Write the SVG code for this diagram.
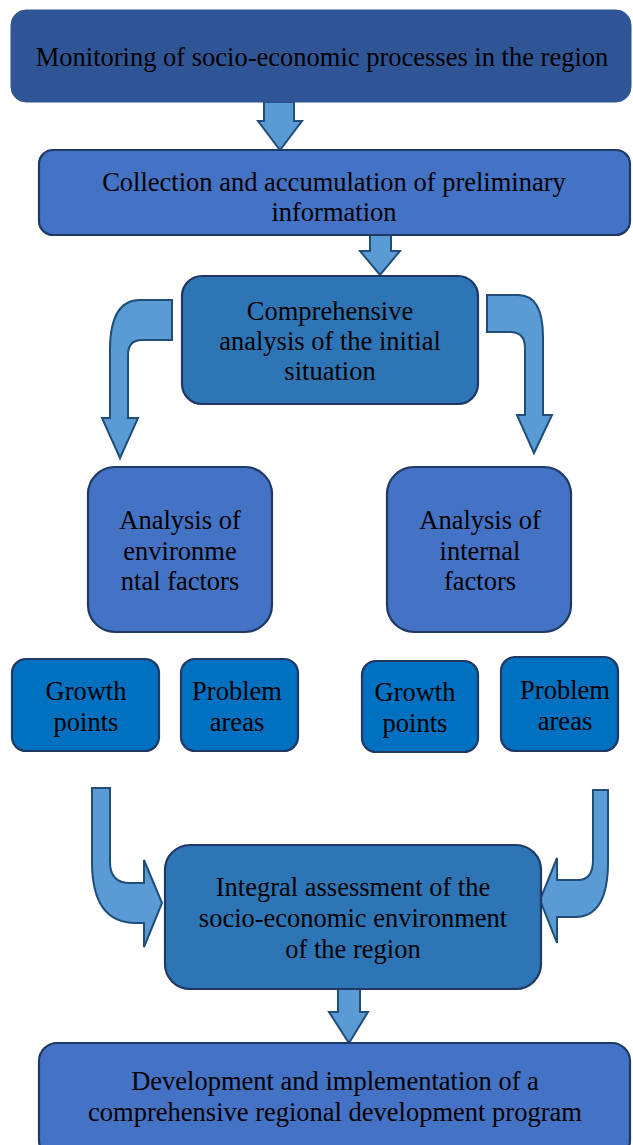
<svg xmlns="http://www.w3.org/2000/svg" width="633" height="1145" viewBox="0 0 633 1145">
<style>
.t{font-family:"Liberation Serif","Times New Roman",serif;font-size:26.5px;fill:#000;text-anchor:middle}
.b{stroke:#1F3864;stroke-width:2.2}
.a{fill:#5B9BD5;stroke:#1F4E79;stroke-width:2;stroke-linejoin:miter}
</style>
<rect width="633" height="1145" fill="#fff"/>
<g id="connectors">
<path class="a" d="M264,102 L294,102 L294,121 L302,121 L280,150 L258,121 L264,121 Z"/>
<path class="a" d="M370,235 L391,235 L391,251 L400,251 L380,275 L360,251 L370,251 Z"/>
<path class="a" d="M172,300 L140,300 Q110,300 110,350 L110,418 L102,418 L120,458 L138,418 L128,418 L128,355 Q128,340 142,340 L172,340 Z"/>
<path class="a" d="M487,295 L518,295 Q543,295 543,337 L543,415 L552,415 L534,453 L517,415 L525,415 L525,348 Q525,332 510,332 L487,332 Z"/>
<path class="a" d="M92,788 L110,788 L110,862 Q110,883 130,883 L144,883 L144,860 L162,903 L144,947 L144,923 L136,923 Q92,923 92,862 Z"/>
<path class="a" d="M593,790 L608,790 L608,862 Q608,917 575,917 L557,917 L557,943 L540,900 L557,858 L557,880 L578,880 Q593,880 593,860 Z"/>
<path class="a" d="M338,989 L360,989 L360,1012 L368,1012 L349,1043 L329,1012 L338,1012 Z"/>
</g>
<g id="n1">
<rect x="11" y="10" width="620" height="92" rx="15" fill="#2F5597" stroke="#2F5597" stroke-width="1"/>
<text class="t" x="322" y="66">Monitoring of socio-economic processes in the region</text>
</g>
<g id="n2">
<rect class="b" x="39" y="150" width="591" height="85" rx="14" fill="#4472C4"/>
<text class="t" x="334" y="191">Collection and accumulation of preliminary</text>
<text class="t" x="334" y="221">information</text>
</g>
<g id="n3">
<rect class="b" x="182" y="276" width="296" height="128" rx="20" fill="#2E75B6"/>
<text class="t" x="330" y="320">Comprehensive</text>
<text class="t" x="330" y="350">analysis of the initial</text>
<text class="t" x="330" y="380">situation</text>
</g>
<g id="n4">
<rect class="b" x="88" y="467" width="184" height="165" rx="27" fill="#4472C4"/>
<text class="t" x="180" y="529">Analysis of</text>
<text class="t" x="180" y="560">environme</text>
<text class="t" x="180" y="590">ntal factors</text>
</g>
<g id="n5">
<rect class="b" x="387" y="467" width="184" height="165" rx="27" fill="#4472C4"/>
<text class="t" x="480" y="529">Analysis of</text>
<text class="t" x="480" y="560">internal</text>
<text class="t" x="480" y="590">factors</text>
</g>
<g id="n6">
<rect class="b" x="12" y="659" width="147" height="92" rx="14" fill="#0070C0"/>
<text class="t" x="86" y="700">Growth</text>
<text class="t" x="86" y="731">points</text>
</g>
<g id="n7">
<rect class="b" x="181" y="659" width="117" height="92" rx="14" fill="#0070C0"/>
<text class="t" x="237" y="700">Problem</text>
<text class="t" x="237" y="731">areas</text>
</g>
<g id="n8">
<rect class="b" x="362" y="661" width="116" height="91" rx="14" fill="#0070C0"/>
<text class="t" x="415" y="701">Growth</text>
<text class="t" x="415" y="732">points</text>
</g>
<g id="n9">
<rect class="b" x="501" y="657" width="117" height="94" rx="14" fill="#0070C0"/>
<text class="t" x="565" y="699">Problem</text>
<text class="t" x="565" y="730">areas</text>
</g>
<g id="n10">
<rect class="b" x="165" y="845" width="376" height="144" rx="25" fill="#2E75B6"/>
<text class="t" x="353" y="896">Integral assessment of the</text>
<text class="t" x="353" y="927">socio-economic environment</text>
<text class="t" x="353" y="958">of the region</text>
</g>
<g id="n11">
<rect class="b" x="39" y="1043" width="591" height="115" rx="18" fill="#4472C4"/>
<text class="t" x="335" y="1090">Development and implementation of a</text>
<text class="t" x="335" y="1121">comprehensive regional development program</text>
</g>
</svg>
